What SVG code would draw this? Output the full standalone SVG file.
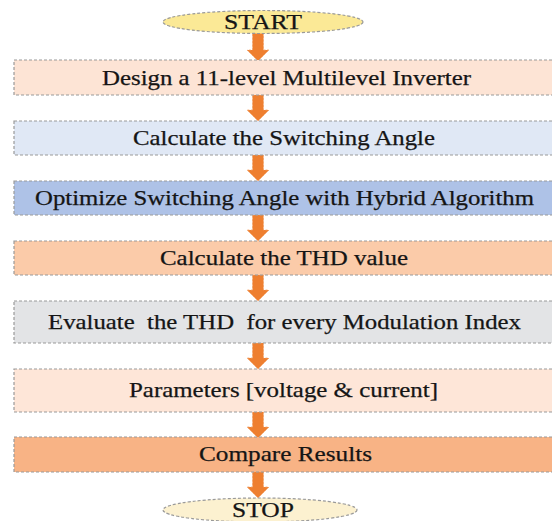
<svg xmlns="http://www.w3.org/2000/svg" width="552" height="521" viewBox="0 0 552 521">
<style>
.box{stroke:#9a9a9a;stroke-width:1.2;stroke-dasharray:3 2}
.t{font-size:21px;fill:#151515;stroke:#151515;stroke-width:0.25;white-space:pre}
.arr{fill:#EE7F30;stroke:#F2A36B;stroke-width:0.8;stroke-dasharray:2 1.5}
</style>
<defs>
<path id="arrow" d="M-5.5,0 H5.5 V15 H11 L0,26 L-11,15 H-5.5 Z"/>
</defs>
<rect width="552" height="521" fill="#ffffff"/>
<g id="connectors">
<path class="arr" d="M252.5,33 H263.5 V50 H269 L258,61 L247,50 H252.5 Z"/>
<use class="arr" href="#arrow" x="258" y="95"/>
<use class="arr" href="#arrow" x="258" y="155"/>
<use class="arr" href="#arrow" x="258" y="215"/>
<use class="arr" href="#arrow" x="258" y="275"/>
<use class="arr" href="#arrow" x="258" y="343"/>
<use class="arr" href="#arrow" x="258" y="412"/>
<path class="arr" d="M252.5,472 H263.5 V487 H269 L258,498 L247,487 H252.5 Z"/>
</g>
<g id="start">
<ellipse class="box" cx="263" cy="22" rx="100" ry="11.5" fill="#FBE996"/>
<text class="t" style="font-family:'Liberation Serif',serif" x="224" y="29" textLength="78" lengthAdjust="spacingAndGlyphs">START</text>
</g>
<g id="n1">
<rect class="box" x="14" y="60" width="545" height="35" fill="#FDE4D5"/>
<text class="t" style="font-family:'Liberation Serif',serif" x="102" y="85" textLength="369" lengthAdjust="spacingAndGlyphs">Design a 11-level Multilevel Inverter</text>
</g>
<g id="n2">
<rect class="box" x="14" y="121" width="545" height="34" fill="#E0E8F5"/>
<text class="t" style="font-family:'Liberation Serif',serif" x="133" y="145" textLength="302" lengthAdjust="spacingAndGlyphs">Calculate the Switching Angle</text>
</g>
<g id="n3">
<rect class="box" x="14" y="181" width="545" height="34" fill="#AEC2E7"/>
<text class="t" style="font-family:'Liberation Serif',serif" x="35" y="205" textLength="499" lengthAdjust="spacingAndGlyphs">Optimize Switching Angle with Hybrid Algorithm</text>
</g>
<g id="n4">
<rect class="box" x="14" y="241" width="545" height="34" fill="#FBCBA9"/>
<text class="t" style="font-family:'Liberation Serif',serif" x="160" y="265" textLength="248" lengthAdjust="spacingAndGlyphs">Calculate the THD value</text>
</g>
<g id="n5">
<rect class="box" x="14" y="301" width="545" height="42" fill="#E3E4E6"/>
<text class="t" style="font-family:'Liberation Serif',serif" x="48" y="329" textLength="473" lengthAdjust="spacingAndGlyphs">Evaluate  the THD  for every Modulation Index</text>
</g>
<g id="n6">
<rect class="box" x="14" y="369" width="545" height="43" fill="#FEE6D8"/>
<text class="t" style="font-family:'Liberation Serif',serif" x="129" y="397" textLength="309" lengthAdjust="spacingAndGlyphs">Parameters [voltage &amp; current]</text>
</g>
<g id="n7">
<rect class="box" x="14" y="437" width="545" height="35" fill="#F8B385"/>
<text class="t" style="font-family:'Liberation Serif',serif" x="199" y="461" textLength="173" lengthAdjust="spacingAndGlyphs">Compare Results</text>
</g>
<g id="stop">
<ellipse class="box" cx="260" cy="510" rx="97" ry="12" fill="#FCF1D0"/>
<text class="t" style="font-family:'Liberation Serif',serif" x="232" y="517" textLength="62" lengthAdjust="spacingAndGlyphs">STOP</text>
</g>
</svg>
